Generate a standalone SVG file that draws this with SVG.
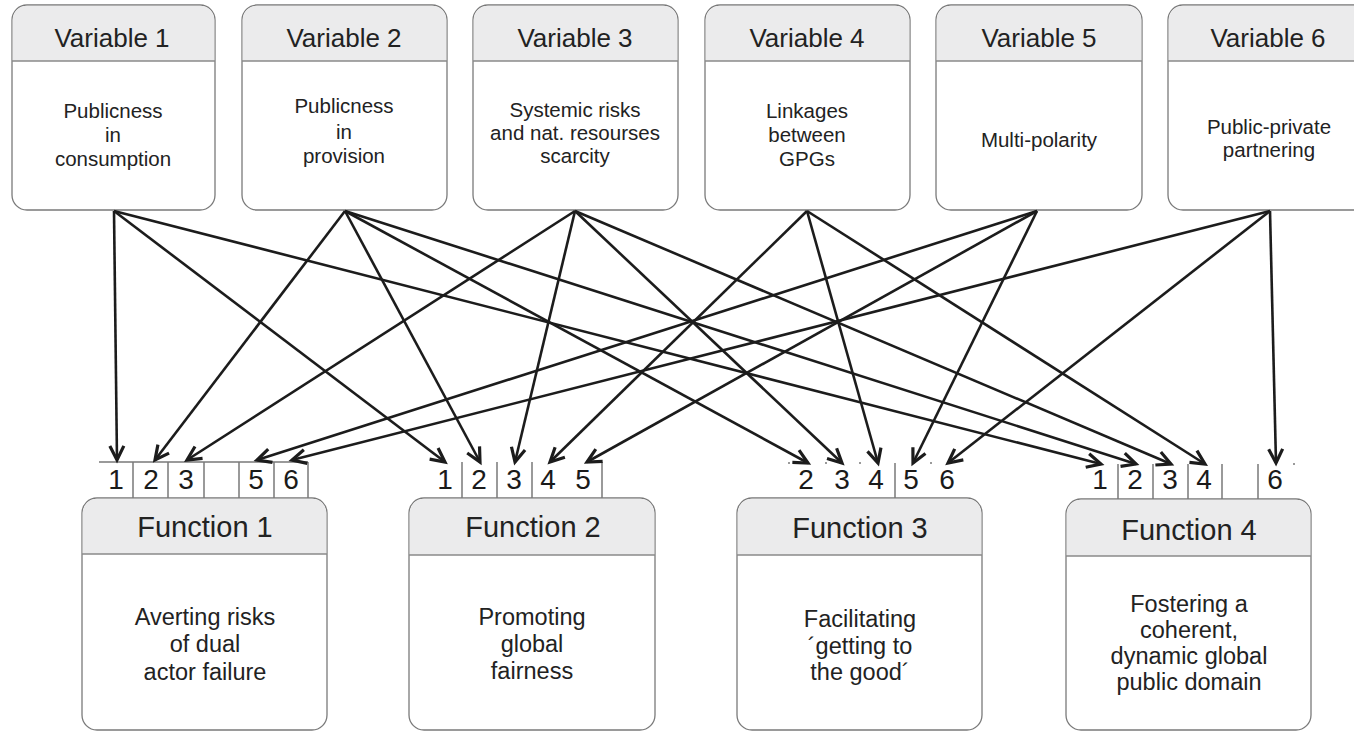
<svg xmlns="http://www.w3.org/2000/svg" width="1354" height="732" viewBox="0 0 1354 732">
<style>
  .box { fill: #ffffff; stroke: #7a7a7a; stroke-width: 1.3; }
  .hdr { fill: #ebebec; stroke: none; }
  .sep { stroke: #8a8a8a; stroke-width: 1.3; fill: none; }
  .cell { stroke: #7a7a7a; stroke-width: 1.5; fill: none; }
  .vh { font-family: "Liberation Sans", Arial, sans-serif; font-size: 26px; fill: #222; text-anchor: middle; }
  .vb { font-family: "Liberation Sans", Arial, sans-serif; font-size: 20.5px; fill: #222; text-anchor: middle; }
  .fh { font-family: "Liberation Sans", Arial, sans-serif; font-size: 29px; fill: #222; text-anchor: middle; }
  .fb { font-family: "Liberation Sans", Arial, sans-serif; font-size: 23.5px; fill: #222; text-anchor: middle; }
  .num { font-family: "Liberation Sans", Arial, sans-serif; font-size: 28px; fill: #1a1a1a; text-anchor: middle; }
  .arr { stroke: #1c1c1c; stroke-width: 2.6; fill: none; marker-end: url(#ah); }
</style>
<defs>
  <marker id="ah" markerUnits="userSpaceOnUse" markerWidth="22" markerHeight="22" refX="0" refY="0" viewBox="-18 -11 22 22" orient="auto">
    <path d="M-14,-7 L0,0 L-14,7" fill="none" stroke="#1c1c1c" stroke-width="3.2" stroke-linejoin="miter"/>
  </marker>
</defs>

<!-- Variables -->
<g id="var1">
  <rect class="box" x="12" y="5" width="203" height="205" rx="15"/>
  <path class="hdr" d="M12.7,61 V20 A14.3,14.3 0 0 1 27,5.7 H200 A14.3,14.3 0 0 1 214.3,20 V61 Z"/>
  <line class="sep" x1="12" y1="61" x2="215" y2="61"/>
  <text class="vh" x="112" y="47">Variable 1</text>
  <text class="vb" x="113" y="118">Publicness</text>
  <text class="vb" x="113" y="142">in</text>
  <text class="vb" x="113" y="166">consumption</text>
</g>
<g id="var2">
  <rect class="box" x="242" y="5" width="205" height="205" rx="15"/>
  <path class="hdr" d="M242.7,61 V20 A14.3,14.3 0 0 1 257,5.7 H432 A14.3,14.3 0 0 1 446.3,20 V61 Z"/>
  <line class="sep" x1="242" y1="61" x2="447" y2="61"/>
  <text class="vh" x="344" y="47">Variable 2</text>
  <text class="vb" x="344" y="113">Publicness</text>
  <text class="vb" x="344" y="139">in</text>
  <text class="vb" x="344" y="163">provision</text>
</g>
<g id="var3">
  <rect class="box" x="473" y="5" width="205" height="205" rx="15"/>
  <path class="hdr" d="M473.7,61 V20 A14.3,14.3 0 0 1 488,5.7 H663 A14.3,14.3 0 0 1 677.3,20 V61 Z"/>
  <line class="sep" x1="473" y1="61" x2="678" y2="61"/>
  <text class="vh" x="575" y="47">Variable 3</text>
  <text class="vb" x="575" y="117">Systemic risks</text>
  <text class="vb" x="575" y="140">and nat. resourses</text>
  <text class="vb" x="575" y="163">scarcity</text>
</g>
<g id="var4">
  <rect class="box" x="705" y="5" width="205" height="205" rx="15"/>
  <path class="hdr" d="M705.7,61 V20 A14.3,14.3 0 0 1 720,5.7 H895 A14.3,14.3 0 0 1 909.3,20 V61 Z"/>
  <line class="sep" x1="705" y1="61" x2="910" y2="61"/>
  <text class="vh" x="807" y="47">Variable 4</text>
  <text class="vb" x="807" y="118">Linkages</text>
  <text class="vb" x="807" y="142">between</text>
  <text class="vb" x="807" y="166">GPGs</text>
</g>
<g id="var5">
  <rect class="box" x="936" y="5" width="206" height="205" rx="15"/>
  <path class="hdr" d="M936.7,61 V20 A14.3,14.3 0 0 1 951,5.7 H1127 A14.3,14.3 0 0 1 1141.3,20 V61 Z"/>
  <line class="sep" x1="936" y1="61" x2="1142" y2="61"/>
  <text class="vh" x="1039" y="47">Variable 5</text>
  <text class="vb" x="1039" y="147">Multi-polarity</text>
</g>
<g id="var6">
  <rect class="box" x="1168" y="5" width="205" height="205" rx="15"/>
  <path class="hdr" d="M1168.7,61 V20 A14.3,14.3 0 0 1 1183,5.7 H1358 A14.3,14.3 0 0 1 1372.3,20 V61 Z"/>
  <line class="sep" x1="1168" y1="61" x2="1373" y2="61"/>
  <text class="vh" x="1268" y="47">Variable 6</text>
  <text class="vb" x="1269" y="134">Public-private</text>
  <text class="vb" x="1269" y="157">partnering</text>
</g>

<!-- Functions -->
<g id="func1">
  <rect class="box" x="82" y="498" width="245" height="232" rx="15"/>
  <path class="hdr" d="M82.7,554 V513 A14.3,14.3 0 0 1 97,498.7 H312 A14.3,14.3 0 0 1 326.3,513 V554 Z"/>
  <line class="sep" x1="82" y1="554" x2="327" y2="554"/>
  <text class="fh" x="205" y="537">Function 1</text>
  <text class="fb" x="205" y="625">Averting risks</text>
  <text class="fb" x="205" y="652">of dual</text>
  <text class="fb" x="205" y="680">actor failure</text>
  <g id="strip1">
    <path class="cell" d="M99,462 H308 M133,462 V498 M168,462 V498 M204,462 V498 M239,462 V498 M274,462 V498 M308,462 V498"/>
    <text class="num" x="116" y="489">1</text>
    <text class="num" x="151" y="489">2</text>
    <text class="num" x="186" y="489">3</text>
    <text class="num" x="256" y="489">5</text>
    <text class="num" x="291" y="489">6</text>
  </g>
</g>
<g id="func2">
  <rect class="box" x="409" y="498" width="246" height="232" rx="15"/>
  <path class="hdr" d="M409.7,555 V513 A14.3,14.3 0 0 1 424,498.7 H640 A14.3,14.3 0 0 1 654.3,513 V555 Z"/>
  <line class="sep" x1="409" y1="555" x2="655" y2="555"/>
  <text class="fh" x="533" y="537">Function 2</text>
  <text class="fb" x="532" y="625">Promoting</text>
  <text class="fb" x="532" y="652">global</text>
  <text class="fb" x="532" y="679">fairness</text>
  <g id="strip2">
    <path class="cell" d="M462,462 V498 M497,462 V498 M532,462 V498 M602,462 V498"/>
    <text class="num" x="445" y="489">1</text>
    <text class="num" x="479" y="489">2</text>
    <text class="num" x="514" y="489">3</text>
    <text class="num" x="548" y="489">4</text>
    <text class="num" x="583" y="489">5</text>
  </g>
</g>
<g id="func3">
  <rect class="box" x="737" y="498" width="245" height="232" rx="15"/>
  <path class="hdr" d="M737.7,555 V513 A14.3,14.3 0 0 1 752,498.7 H967 A14.3,14.3 0 0 1 981.3,513 V555 Z"/>
  <line class="sep" x1="737" y1="555" x2="982" y2="555"/>
  <text class="fh" x="860" y="538">Function 3</text>
  <text class="fb" x="860" y="627">Facilitating</text>
  <text class="fb" x="860" y="654">´getting to</text>
  <text class="fb" x="860" y="680">the good´</text>
  <g id="strip3">
    <path class="cell" d="M895,463 V498 M788,463 h2 M825,463 h2 M859,463 h2 M930,463 h2"/>
    <text class="num" x="806" y="489">2</text>
    <text class="num" x="842" y="489">3</text>
    <text class="num" x="876" y="489">4</text>
    <text class="num" x="911" y="489">5</text>
    <text class="num" x="947" y="489">6</text>
  </g>
</g>
<g id="func4">
  <rect class="box" x="1066" y="499" width="245" height="231" rx="15"/>
  <path class="hdr" d="M1066.7,556 V514 A14.3,14.3 0 0 1 1081,499.7 H1296 A14.3,14.3 0 0 1 1310.3,514 V556 Z"/>
  <line class="sep" x1="1066" y1="556" x2="1311" y2="556"/>
  <text class="fh" x="1189" y="540">Function 4</text>
  <text class="fb" x="1189" y="612">Fostering a</text>
  <text class="fb" x="1189" y="638">coherent,</text>
  <text class="fb" x="1189" y="664">dynamic global</text>
  <text class="fb" x="1189" y="690">public domain</text>
  <g id="strip4">
    <path class="cell" d="M1118,464 V499 M1153,464 V499 M1188,464 V499 M1222,464 V499 M1258,464 V499 M1293,464 h2"/>
    <text class="num" x="1100" y="489">1</text>
    <text class="num" x="1135" y="489">2</text>
    <text class="num" x="1170" y="489">3</text>
    <text class="num" x="1204" y="489">4</text>
    <text class="num" x="1275" y="489">6</text>
  </g>
</g>

<!-- Connectors -->
<g id="connectors">
  <!-- Variable 1 -->
  <line class="arr" x1="114" y1="211" x2="117" y2="460"/>
  <line class="arr" x1="114" y1="211" x2="445" y2="462"/>
  <line class="arr" x1="114" y1="211" x2="1101" y2="464"/>
  <!-- Variable 2 -->
  <line class="arr" x1="345" y1="211" x2="155" y2="460"/>
  <line class="arr" x1="345" y1="211" x2="480" y2="462"/>
  <line class="arr" x1="345" y1="211" x2="808" y2="463"/>
  <line class="arr" x1="345" y1="211" x2="1136" y2="464"/>
  <!-- Variable 3 -->
  <line class="arr" x1="575" y1="211" x2="187" y2="460"/>
  <line class="arr" x1="575" y1="211" x2="515" y2="462"/>
  <line class="arr" x1="575" y1="211" x2="842" y2="463"/>
  <line class="arr" x1="575" y1="211" x2="1171" y2="464"/>
  <!-- Variable 4 -->
  <line class="arr" x1="807" y1="211" x2="550" y2="462"/>
  <line class="arr" x1="807" y1="211" x2="878" y2="463"/>
  <line class="arr" x1="807" y1="211" x2="1205" y2="464"/>
  <!-- Variable 5 -->
  <line class="arr" x1="1037" y1="211" x2="257" y2="460"/>
  <line class="arr" x1="1037" y1="211" x2="587" y2="462"/>
  <line class="arr" x1="1037" y1="211" x2="913" y2="463"/>
  <!-- Variable 6 -->
  <line class="arr" x1="1270" y1="211" x2="292" y2="460"/>
  <line class="arr" x1="1270" y1="211" x2="948" y2="463"/>
  <line class="arr" x1="1270" y1="211" x2="1276" y2="463"/>
</g>
</svg>
